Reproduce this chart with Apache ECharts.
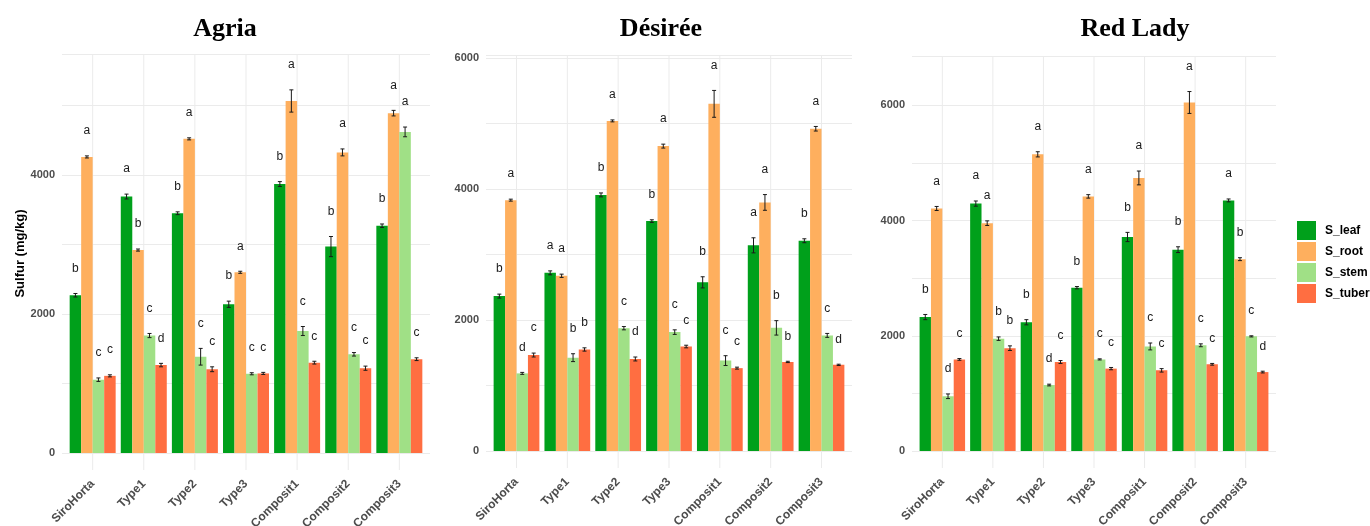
<!DOCTYPE html>
<html>
<head>
<meta charset="utf-8">
<script src="https://cdn.jsdelivr.net/npm/echarts@6/dist/echarts.min.js"></script>
<style>
  html, body { margin: 0; padding: 0; background: #ffffff; }
  #chart { width: 1370px; height: 526px; }
</style>
</head>
<body>
<div id="chart"></div>
<script>
// Sulfur content (mg/kg) by plant organ, fertiliser treatment and potato variety
const categories = ['SiroHorta', 'Type1', 'Type2', 'Type3', 'Composit1', 'Composit2', 'Composit3'];
const seriesNames = ['S_leaf', 'S_root', 'S_stem', 'S_tuber'];
const varieties = ['Agria', 'Désirée', 'Red Lady'];
const yTickLabels = [0, 2000, 4000, 6000];

// Agria
const agriaLeaf  = [2270, 3690, 3450, 2140, 3870, 2970, 3270];
const agriaRoot  = [4260, 2920, 4520, 2600, 5065, 4325, 4890];
const agriaStem  = [1055, 1690, 1385, 1140, 1755, 1420, 4620];
const agriaTuber = [1110, 1265, 1205, 1145, 1300, 1220, 1350];
const agriaLeafSe  = [25, 35, 20, 45, 35, 145, 25];
const agriaRootSe  = [15, 15, 15, 15, 160, 50, 40];
const agriaStemSe  = [25, 30, 120, 15, 65, 25, 70];
const agriaTuberSe = [15, 25, 35, 15, 20, 30, 20];
const agriaLeafLetters  = ['b', 'a', 'b', 'b', 'b', 'b', 'b'];
const agriaRootLetters  = ['a', 'b', 'a', 'a', 'a', 'a', 'a'];
const agriaStemLetters  = ['c', 'c', 'c', 'c', 'c', 'c', 'a'];
const agriaTuberLetters = ['c', 'd', 'c', 'c', 'c', 'c', 'c'];

// Désirée
const desireeLeaf  = [2365, 2720, 3910, 3510, 2575, 3140, 3210];
const desireeRoot  = [3830, 2675, 5040, 4655, 5300, 3795, 4920];
const desireeStem  = [1185, 1425, 1875, 1815, 1380, 1880, 1765];
const desireeTuber = [1465, 1550, 1405, 1595, 1265, 1360, 1315];
const desireeLeafSe  = [30, 30, 30, 20, 85, 115, 30];
const desireeRootSe  = [15, 25, 15, 30, 205, 120, 35];
const desireeStemSe  = [15, 60, 25, 35, 75, 110, 30];
const desireeTuberSe = [30, 25, 30, 20, 15, 10, 10];
const desireeLeafLetters  = ['b', 'a', 'b', 'b', 'b', 'a', 'b'];
const desireeRootLetters  = ['a', 'a', 'a', 'a', 'a', 'a', 'a'];
const desireeStemLetters  = ['d', 'b', 'c', 'c', 'c', 'b', 'c'];
const desireeTuberLetters = ['c', 'b', 'd', 'c', 'c', 'b', 'd'];

// Red Lady
const redLadyLeaf  = [2325, 4295, 2235, 2835, 3715, 3495, 4350];
const redLadyRoot  = [4210, 3955, 5150, 4420, 4740, 6050, 3330];
const redLadyStem  = [950, 1950, 1145, 1590, 1815, 1835, 1990];
const redLadyTuber = [1590, 1785, 1545, 1430, 1400, 1505, 1370];
const redLadyLeafSe  = [45, 45, 45, 20, 80, 50, 25];
const redLadyRootSe  = [35, 40, 45, 30, 120, 190, 25];
const redLadyStemSe  = [40, 30, 15, 10, 60, 25, 10];
const redLadyTuberSe = [15, 40, 25, 20, 30, 15, 15];
const redLadyLeafLetters  = ['b', 'a', 'b', 'b', 'b', 'b', 'a'];
const redLadyRootLetters  = ['a', 'a', 'a', 'a', 'a', 'a', 'b'];
const redLadyStemLetters  = ['d', 'b', 'd', 'c', 'c', 'c', 'c'];
const redLadyTuberLetters = ['c', 'b', 'c', 'c', 'c', 'c', 'd'];

const panelValues = [
  [agriaLeaf, agriaRoot, agriaStem, agriaTuber],
  [desireeLeaf, desireeRoot, desireeStem, desireeTuber],
  [redLadyLeaf, redLadyRoot, redLadyStem, redLadyTuber]
];
const panelSe = [
  [agriaLeafSe, agriaRootSe, agriaStemSe, agriaTuberSe],
  [desireeLeafSe, desireeRootSe, desireeStemSe, desireeTuberSe],
  [redLadyLeafSe, redLadyRootSe, redLadyStemSe, redLadyTuberSe]
];
const panelLetters = [
  [agriaLeafLetters, agriaRootLetters, agriaStemLetters, agriaTuberLetters],
  [desireeLeafLetters, desireeRootLetters, desireeStemLetters, desireeTuberLetters],
  [redLadyLeafLetters, redLadyRootLetters, redLadyStemLetters, redLadyTuberLetters]
];

const colors = ['#00a01b', '#feaf5e', '#a0e086', '#ff6e41'];
const gridColor = '#ebebeb';
const font = '"Liberation Sans", Arial, sans-serif';

// Panel geometry: plot box in pixels and top of the value range
const panels = [
  { left: 62,  right: 430,  top: 54, zero: 453, yMax: 5741, titleX: 220 },
  { left: 486, right: 852,  top: 55, zero: 451, yMax: 6046, titleX: 656 },
  { left: 912, right: 1276, top: 56, zero: 451, yMax: 6857, titleX: 1130 }
];

const grids = [], xAxes = [], yAxes = [], series = [], titles = [];

panels.forEach((p, k) => {
  const unit = (p.right - p.left) / 7.2;     // one category step, with 0.6 step padding each side
  const height = p.zero - p.top;

  // Background grid: horizontal gridlines and value labels across the full panel width
  grids.push({ left: p.left, top: p.top, width: p.right - p.left, height: height,
               containLabel: false, outerBoundsMode: 'none' });
  xAxes.push({ gridIndex: 2 * k, type: 'value', min: 0, max: 1, show: false });
  yAxes.push({
    gridIndex: 2 * k, type: 'value', min: 0, max: p.yMax, interval: 1000,
    axisLine: { show: false }, axisTick: { show: false },
    splitLine: { show: true, lineStyle: { color: gridColor, width: 1 } },
    axisLabel: {
      margin: 7, color: '#4d4d4d', fontSize: 11, fontWeight: 'bold', fontFamily: font,
      formatter: v => (yTickLabels.indexOf(v) >= 0 ? String(v) : '')
    },
    name: k === 0 ? 'Sulfur (mg/kg)' : '',
    nameLocation: 'middle', nameGap: 35, nameRotate: 90,
    nameTextStyle: { color: '#000', fontSize: 13, fontWeight: 'bold', fontFamily: font }
  });

  // Bar grid: category bands
  grids.push({ left: p.left + 0.1 * unit, top: p.top, width: 7 * unit, height: height,
               containLabel: false, outerBoundsMode: 'none' });
  xAxes.push({
    gridIndex: 2 * k + 1, type: 'category', data: categories,
    axisLine: { show: false }, axisTick: { show: false }, splitLine: { show: false },
    axisLabel: { interval: 0, rotate: 45, margin: 29, color: '#4d4d4d',
                 fontSize: 12, fontWeight: 'bold', fontFamily: font }
  });
  yAxes.push({ gridIndex: 2 * k + 1, type: 'value', min: 0, max: p.yMax, show: false });

  const axisIdx = 2 * k + 1;

  // Vertical gridlines at each category, running a little below the zero line
  series.push({
    type: 'custom', xAxisIndex: axisIdx, yAxisIndex: axisIdx, z: 1, silent: true, clip: false,
    data: categories.map((c, i) => [i, 0]),
    renderItem: (params, api) => {
      const cs = params.coordSys;
      const x = api.coord([api.value(0), 0])[0];
      return { type: 'line', shape: { x1: x, y1: cs.y, x2: x, y2: cs.y + cs.height + 17 },
               style: { stroke: gridColor, lineWidth: 1 } };
    }
  });

  seriesNames.forEach((name, s) => {
    series.push({
      name: name, type: 'bar', xAxisIndex: axisIdx, yAxisIndex: axisIdx,
      barGap: '0%', barCategoryGap: '10%', z: 2,
      itemStyle: { color: colors[s] },
      data: panelValues[k][s]
    });
  });

  // Error bars and significance letters
  seriesNames.forEach((name, s) => {
    const vals = panelValues[k][s], se = panelSe[k][s], letters = panelLetters[k][s];
    series.push({
      type: 'custom', xAxisIndex: axisIdx, yAxisIndex: axisIdx, z: 3, silent: true, clip: false,
      data: vals.map((v, i) => [i, v, se[i]]),
      renderItem: (params, api) => {
        const i = api.value(0), v = api.value(1), e = api.value(2);
        const band = api.size([1, 0])[0];
        const groupW = band * 0.9, barW = groupW / 4;
        const cx = api.coord([i, v])[0] - groupW / 2 + (s + 0.5) * barW;
        const yTop = api.coord([i, v + e])[1];
        const yBot = api.coord([i, v - e])[1];
        const h = 2;
        const st = { stroke: '#1a1a1a', lineWidth: 1 };
        return { type: 'group', children: [
          { type: 'line', shape: { x1: cx, y1: yTop, x2: cx, y2: yBot }, style: st },
          { type: 'line', shape: { x1: cx - h, y1: yTop, x2: cx + h, y2: yTop }, style: st },
          { type: 'line', shape: { x1: cx - h, y1: yBot, x2: cx + h, y2: yBot }, style: st },
          { type: 'text', x: cx, y: yTop - 19,
            style: { text: letters[i], fill: '#1a1a1a', fontSize: 12, fontFamily: font,
                     align: 'center', verticalAlign: 'bottom' } }
        ] };
      }
    });
  });

  titles.push({
    text: varieties[k], left: p.titleX, top: 11, textAlign: 'center',
    textStyle: { fontFamily: '"Liberation Serif", "Times New Roman", serif',
                 fontSize: 26, fontWeight: 'bold', color: '#000' }
  });
});

const chart = echarts.init(document.getElementById('chart'), null, { renderer: 'canvas' });
chart.setOption({
  backgroundColor: '#ffffff',
  animation: false,
  title: titles,
  legend: {
    data: seriesNames, orient: 'vertical', left: 1297, top: 221, padding: 0,
    itemWidth: 19, itemHeight: 19, itemGap: 2, icon: 'rect',
    selectedMode: false,
    textStyle: { color: '#000', fontSize: 12, fontWeight: 'bold', fontFamily: font, padding: [0, 0, 0, 4] }
  },
  grid: grids,
  xAxis: xAxes,
  yAxis: yAxes,
  series: series
});
</script>
</body>
</html>
